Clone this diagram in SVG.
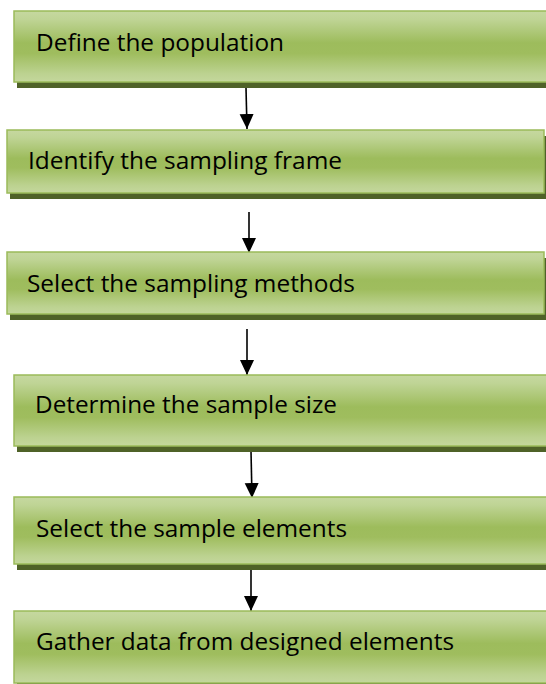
<svg xmlns="http://www.w3.org/2000/svg" width="546" height="684" viewBox="0 0 546 684">
  <defs>
    <linearGradient id="olive" x1="0" y1="0" x2="0" y2="1">
      <stop offset="0" stop-color="#c6d8a0"/>
      <stop offset="0.12" stop-color="#bfd495"/>
      <stop offset="0.45" stop-color="#9dbc5c"/>
      <stop offset="0.6" stop-color="#9fbd5e"/>
      <stop offset="0.88" stop-color="#bcd290"/>
      <stop offset="1" stop-color="#c4d79d"/>
    </linearGradient>
    <marker id="head" markerUnits="userSpaceOnUse" markerWidth="16" markerHeight="16" viewBox="0 0 16 16" refX="15" refY="8" orient="auto">
      <path d="M0,1 L15,8 L0,15 Z" fill="#000"/>
    </marker>
  </defs>
  <style>
    .shadow { fill: #4f6228; }
    .box { fill: url(#olive); stroke: #9bbb59; stroke-width: 1.5; }
    .label { font-family: "Open Sans", "Liberation Sans", sans-serif; font-size: 24px; fill: #000; }
    .conn { stroke: #000; stroke-width: 1.6; fill: none; marker-end: url(#head); }
  </style>
  <rect width="546" height="684" fill="#fff"/>

  <g id="connectors">
    <line class="conn" x1="246" y1="88" x2="247" y2="129"/>
    <line class="conn" x1="249" y1="212" x2="249" y2="253"/>
    <line class="conn" x1="247" y1="329" x2="247" y2="375"/>
    <line class="conn" x1="251" y1="451" x2="252" y2="498"/>
    <line class="conn" x1="251" y1="568" x2="251" y2="611"/>
  </g>

  <g id="define-population">
    <rect class="shadow" x="17" y="17" width="540" height="71"/>
    <rect class="box" x="14" y="11" width="540" height="71"/>
    <text class="label" x="36" y="51" textLength="248" lengthAdjust="spacingAndGlyphs">Define the population</text>
  </g>

  <g id="identify-frame">
    <rect class="shadow" x="10" y="136" width="537" height="63"/>
    <rect class="box" x="7" y="130" width="537" height="63"/>
    <text class="label" x="28" y="169" textLength="314" lengthAdjust="spacingAndGlyphs">Identify the sampling frame</text>
  </g>

  <g id="select-methods">
    <rect class="shadow" x="10" y="258" width="537" height="62"/>
    <rect class="box" x="7" y="252" width="537" height="62"/>
    <text class="label" x="27" y="292" textLength="328" lengthAdjust="spacingAndGlyphs">Select the sampling methods</text>
  </g>

  <g id="determine-size">
    <rect class="shadow" x="17" y="381" width="540" height="71"/>
    <rect class="box" x="14" y="375" width="540" height="71"/>
    <text class="label" x="35" y="413" textLength="302" lengthAdjust="spacingAndGlyphs">Determine the sample size</text>
  </g>

  <g id="select-elements">
    <rect class="shadow" x="17" y="503" width="540" height="67"/>
    <rect class="box" x="14" y="497" width="540" height="67"/>
    <text class="label" x="36" y="537" textLength="311" lengthAdjust="spacingAndGlyphs">Select the sample elements</text>
  </g>

  <g id="gather-data">
    <rect class="shadow" x="17" y="617" width="540" height="72"/>
    <rect class="box" x="14" y="611" width="540" height="72"/>
    <text class="label" x="36" y="650" textLength="418" lengthAdjust="spacingAndGlyphs">Gather data from designed elements</text>
  </g>
</svg>
